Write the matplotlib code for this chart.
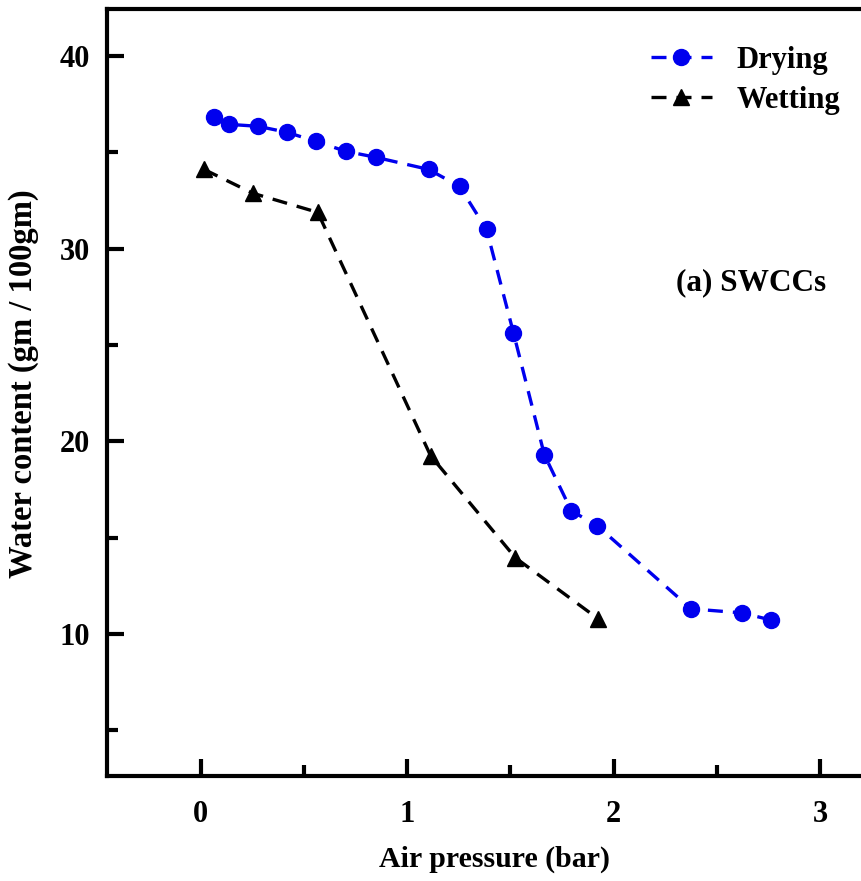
import matplotlib
matplotlib.use("Agg")
import matplotlib.pyplot as plt
from matplotlib.ticker import MultipleLocator

plt.rcParams['font.family'] = ['Liberation Serif', 'DejaVu Serif']
plt.rcParams['font.weight'] = 'bold'

# Soil-water characteristic curves
drying_pressure = [0.063, 0.135, 0.276, 0.416, 0.556, 0.702, 0.847, 1.103, 1.253,
                   1.384, 1.514, 1.664, 1.795, 1.921, 2.375, 2.622, 2.762]
drying_water = [36.83, 36.46, 36.36, 36.05, 35.58, 35.06, 34.75, 34.12, 33.24,
                31.0, 25.65, 19.3, 16.39, 15.61, 11.3, 11.09, 10.72]

wetting_pressure = [0.015, 0.252, 0.566, 1.113, 1.524, 1.925]
wetting_water = [34.12, 32.88, 31.89, 19.25, 13.95, 10.78]

x_ticks = [0, 1, 2, 3]
y_ticks = [10, 20, 30, 40]

fig = plt.figure(figsize=(8.62, 8.81), dpi=100)
ax = fig.add_axes([107 / 862, 1 - 776 / 881, 775 / 862, (776 - 9) / 881])

dash = (0, (4.5, 3.0))
ax.plot(drying_pressure, drying_water, color='#0000ee', linestyle=dash,
        linewidth=2.4, marker='o', markersize=11.5, label='Drying')
ax.plot(wetting_pressure, wetting_water, color='black', linestyle=dash,
        linewidth=2.4, marker='^', markersize=11, label='Wetting')

ax.set_xlim(-0.455, 3.3)
ax.set_ylim(2.62, 42.45)
ax.set_xticks(x_ticks)
ax.set_yticks(y_ticks)
ax.xaxis.set_minor_locator(MultipleLocator(0.5))
ax.yaxis.set_minor_locator(MultipleLocator(5))

for side in ['left', 'bottom', 'top', 'right']:
    ax.spines[side].set_linewidth(3)

ax.tick_params(axis='both', which='major', direction='in', length=12, width=3,
               labelsize=22)
ax.tick_params(axis='both', which='minor', direction='in', length=8, width=3)
ax.tick_params(axis='x', which='major', pad=17)
ax.tick_params(axis='y', which='major', pad=12)
ax.tick_params(top=False, right=False, which='both')

ax.set_xlabel('Air pressure (bar)', fontsize=21.5, fontweight='bold', labelpad=12)
ax.set_ylabel('Water content (gm / 100gm)', fontsize=23.5, fontweight='bold', labelpad=15)
ax.yaxis.label.set_y(0.512)

ax.text(2.30, 28.25, '(a) SWCCs', fontsize=22.5, fontweight='bold', va='center', ha='left')

ax.legend(loc='upper left', bbox_to_anchor=(0.666, 0.988), frameon=False,
          handlelength=2.0, handletextpad=0.8, labelspacing=0.37,
          prop={'weight': 'bold', 'size': 22})

fig.savefig('out.png', dpi=100)
